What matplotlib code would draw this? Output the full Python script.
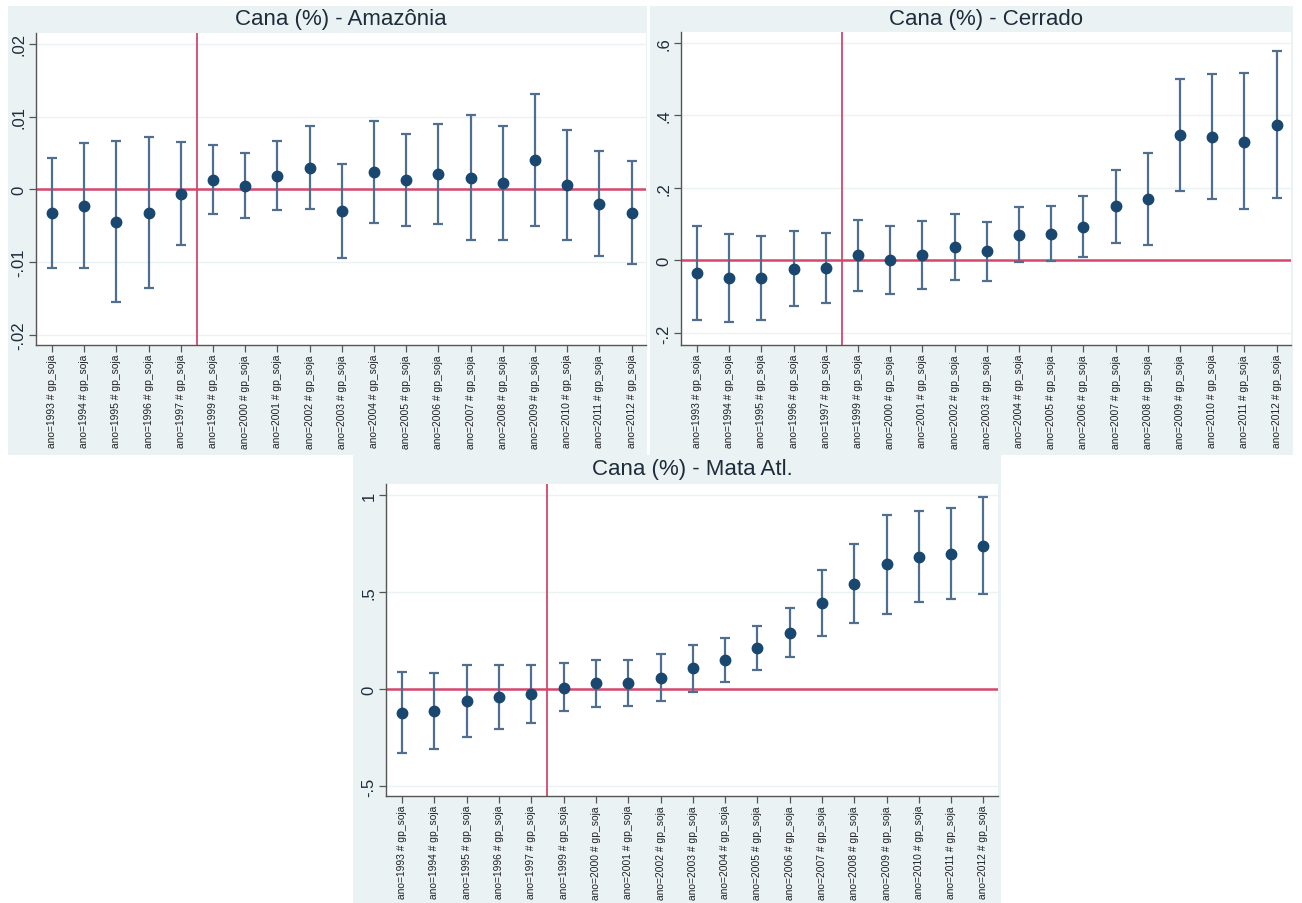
import matplotlib
matplotlib.use("Agg")
import matplotlib.pyplot as plt
from matplotlib.patches import Rectangle

plt.rcParams["font.family"] = ["Liberation Sans", "DejaVu Sans"]

W, H = 1302, 904

years = [1993, 1994, 1995, 1996, 1997, 1999, 2000, 2001, 2002, 2003,
         2004, 2005, 2006, 2007, 2008, 2009, 2010, 2011, 2012]
xlabels = [f"ano={y} # gp_soja" for y in years]

# Amazônia
amaz_coef = [-0.0033, -0.0023, -0.00445, -0.0032, -0.0006, 0.00133, 0.00046, 0.00188, 0.00294, -0.0030,
             0.00239, 0.00128, 0.0021, 0.0016, 0.00087, 0.0040, 0.00055, -0.0020, -0.0033]
amaz_hi = [0.00436, 0.00633, 0.00665, 0.00725, 0.00651, 0.00615, 0.00495, 0.0066, 0.00867, 0.00344,
           0.00945, 0.0076, 0.0090, 0.0102, 0.00876, 0.01317, 0.00817, 0.00528, 0.0039]
amaz_lo = [-0.01087, -0.01078, -0.0155, -0.01362, -0.0076, -0.0034, -0.0040, -0.00284, -0.00275, -0.0094,
           -0.00463, -0.0050, -0.00477, -0.0070, -0.0069, -0.0051, -0.0070, -0.0091, -0.0103]
amaz_ticks = [-0.02, -0.01, 0, 0.01, 0.02]
amaz_ticklabels = ["-.02", "-.01", "0", ".01", ".02"]

# Cerrado
cerr_coef = [-0.0349, -0.0477, -0.0495, -0.0229, -0.0202, 0.0138, 0.001, 0.0156, 0.0376, 0.0248,
             0.0716, 0.0734, 0.0936, 0.1495, 0.1697, 0.345, 0.341, 0.328, 0.374]
cerr_hi = [0.0945, 0.0743, 0.067, 0.0807, 0.0771, 0.111, 0.0954, 0.108, 0.128, 0.106,
           0.1486, 0.1495, 0.178, 0.2505, 0.2963, 0.500, 0.513, 0.5156, 0.578]
cerr_lo = [-0.164, -0.170, -0.165, -0.125, -0.1165, -0.0835, -0.0927, -0.078, -0.053, -0.0578,
           -0.0046, -0.0018, 0.011, 0.0486, 0.044, 0.1908, 0.1697, 0.143, 0.173]
cerr_ticks = [-0.2, 0, 0.2, 0.4, 0.6]
cerr_ticklabels = ["-.2", "0", ".2", ".4", ".6"]

# Mata Atlântica
mata_coef = [-0.122, -0.115, -0.0636, -0.043, -0.0258, 0.0069, 0.029, 0.029, 0.057, 0.1065,
             0.148, 0.211, 0.289, 0.443, 0.543, 0.643, 0.680, 0.698, 0.739]
mata_hi = [0.086, 0.084, 0.125, 0.122, 0.125, 0.132, 0.149, 0.149, 0.179, 0.227,
           0.265, 0.326, 0.418, 0.613, 0.747, 0.897, 0.916, 0.933, 0.988]
mata_lo = [-0.332, -0.311, -0.249, -0.2045, -0.175, -0.115, -0.093, -0.089, -0.064, -0.014,
           0.034, 0.098, 0.163, 0.275, 0.342, 0.387, 0.447, 0.466, 0.491]
mata_ticks = [-0.5, 0, 0.5, 1]
mata_ticklabels = ["-.5", "0", ".5", "1"]

BG = "#EAF2F3"
NAVY = "#1A476F"
BAR = "#4F6E90"
RED = "#D6476B"
TXT = "#1E2D3B"


def px_rect(x0, y0, x1, y1):
    return [x0 / W, 1 - y1 / H, (x1 - x0) / W, (y1 - y0) / H]


def draw_panel(fig, bg, area, title_y, title, coef, lo, hi, ticks, ticklabels, ylim):
    # light backdrop behind the whole panel
    bx0, by0, bx1, by1 = bg
    fig.patches.append(Rectangle((bx0 / W, 1 - by1 / H), (bx1 - bx0) / W, (by1 - by0) / H,
                                 transform=fig.transFigure, facecolor=BG,
                                 edgecolor="none", zorder=-5))
    ax = fig.add_axes(px_rect(*area))
    ax.set_facecolor("white")
    x = list(range(len(coef)))
    yerr = [[c - l for c, l in zip(coef, lo)], [h - c for c, h in zip(coef, hi)]]
    ax.errorbar(x, coef, yerr=yerr, fmt="none", ecolor=BAR, elinewidth=1.6,
                capsize=3.5, capthick=1.6, zorder=3)
    ax.plot(x, coef, "o", color=NAVY, markersize=7.5, zorder=4)
    ax.axhline(0, color=RED, linewidth=1.8, zorder=2)
    ax.axvline(4.5, color=RED, linewidth=1.3, zorder=2)

    ax.set_xlim(-0.5, 18.45)
    ax.set_ylim(*ylim)
    ax.set_xticks(x)
    ax.set_xticklabels(xlabels, rotation=90, fontsize=7.4, color="#222222")
    ax.set_yticks(ticks)
    ax.set_yticklabels(ticklabels, rotation=90, va="center", fontsize=12, color=TXT)
    ax.grid(axis="y", color=BG, linewidth=1.0, zorder=1)
    ax.set_axisbelow(True)

    for side in ("top", "right"):
        ax.spines[side].set_visible(False)
    for side in ("left", "bottom"):
        ax.spines[side].set_color("#555555")
        ax.spines[side].set_linewidth(1.0)
    ax.tick_params(axis="both", direction="out", length=5, width=0.9, color="#555555")
    ax.tick_params(axis="x", pad=1.5)
    ax.tick_params(axis="y", pad=2)

    ax0, _, ax1, _ = area
    fig.text(((ax0 + ax1) / 2) / W, 1 - title_y / H, title, ha="center", va="center",
             fontsize=16, color=TXT)
    return ax


fig = plt.figure(figsize=(W / 100, H / 100), dpi=100)
fig.patch.set_facecolor("white")

draw_panel(fig, (8, 7, 647, 456), (36, 34, 646, 346), 19, "Cana (%) - Amazônia",
           amaz_coef, amaz_lo, amaz_hi, amaz_ticks, amaz_ticklabels, (-0.0214, 0.0215))
draw_panel(fig, (650, 7, 1293, 456), (681, 33, 1291, 346), 19, "Cana (%) - Cerrado",
           cerr_coef, cerr_lo, cerr_hi, cerr_ticks, cerr_ticklabels, (-0.233, 0.630))
draw_panel(fig, (353, 456, 1001, 904), (386, 485, 998, 797), 470, "Cana (%) - Mata Atl.",
           mata_coef, mata_lo, mata_hi, mata_ticks, mata_ticklabels, (-0.552, 1.057))

fig.savefig("out.png", dpi=100)
